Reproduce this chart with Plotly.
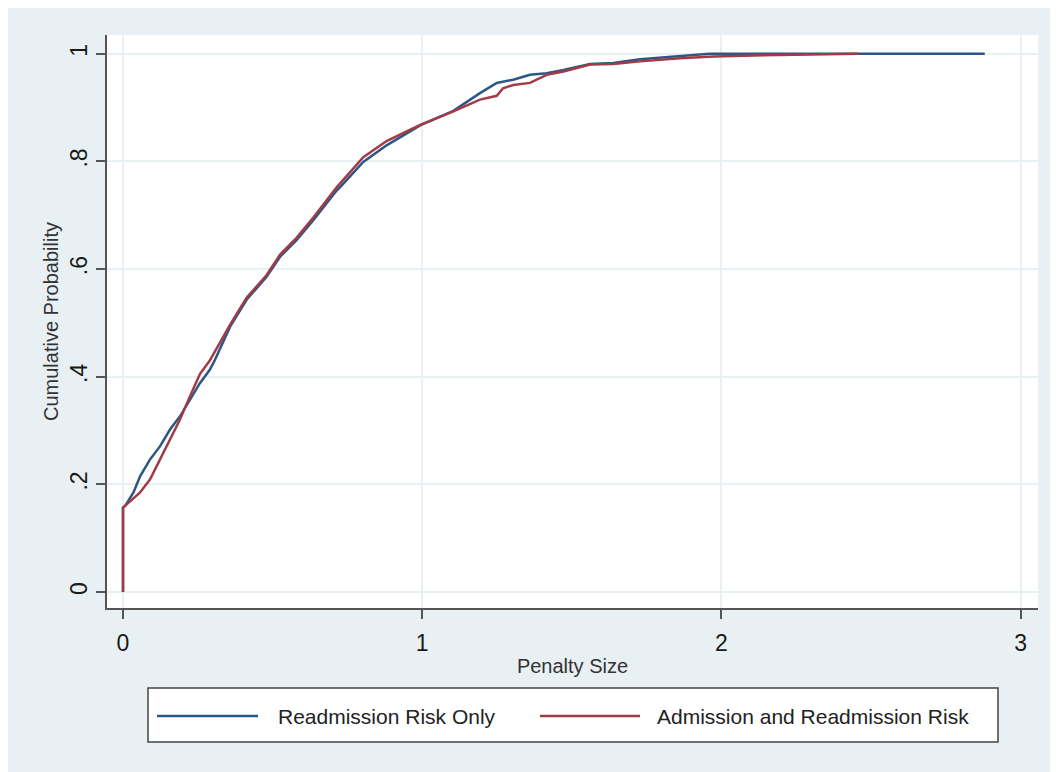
import plotly.graph_objects as go

# ---------------- data ----------------
blue_name = "Readmission Risk Only"
blue_x = [0, 0, 0.007, 0.035, 0.057, 0.09, 0.124, 0.157, 0.19, 0.224, 0.257, 0.29,
          0.307, 0.358, 0.413, 0.48, 0.525, 0.58, 0.636, 0.714, 0.725, 0.803, 0.881,
          0.993, 1.104, 1.193, 1.249, 1.304, 1.36, 1.416, 1.472, 1.561, 1.639, 1.728,
          1.862, 1.96, 2.196, 2.5, 2.88]
blue_y = [0, 0.157, 0.16, 0.185, 0.215, 0.246, 0.271, 0.302, 0.326, 0.357, 0.388, 0.413,
          0.431, 0.493, 0.543, 0.586, 0.623, 0.654, 0.691, 0.746, 0.752, 0.799, 0.83,
          0.867, 0.894, 0.927, 0.946, 0.952, 0.961, 0.964, 0.970, 0.981, 0.983, 0.990,
          0.996, 1.0, 1.0, 1.0, 1.0]

red_name = "Admission and Readmission Risk"
red_x = [0, 0, 0.007, 0.057, 0.09, 0.124, 0.157, 0.19, 0.224, 0.257, 0.29, 0.358, 0.413,
         0.48, 0.525, 0.58, 0.636, 0.714, 0.803, 0.881, 0.993, 1.104, 1.193, 1.249,
         1.27, 1.304, 1.36, 1.416, 1.472, 1.561, 1.639, 1.728, 1.862, 1.973, 2.196,
         2.457]
red_y = [0, 0.157, 0.16, 0.185, 0.209, 0.246, 0.283, 0.32, 0.364, 0.405, 0.43, 0.497,
         0.547, 0.589, 0.627, 0.658, 0.696, 0.752, 0.808, 0.838, 0.868, 0.893, 0.915,
         0.922, 0.936, 0.942, 0.946, 0.961, 0.967, 0.980, 0.981, 0.986, 0.992, 0.995,
         0.998, 1.0]

x_ticks = [0, 1, 2, 3]
x_ticktext = ["0", "1", "2", "3"]
y_ticks = [0, 0.2, 0.4, 0.6, 0.8, 1.0]
y_ticktext = ["0", ".2", ".4", ".6", ".8", "1"]

x_title = "Penalty Size"
y_title = "Cumulative Probability"

# ---------------- styles ----------------
BLUE = "#2c5784"
RED = "#a33b46"
BG = "#e8f0f3"
GRID = "#e8f0f3"
AXIS = "#555555"
FONT = "Liberation Sans, Arial, sans-serif"

fig = go.Figure()
fig.add_trace(go.Scatter(x=blue_x, y=blue_y, mode="lines", name=blue_name,
                         line=dict(color=BLUE, width=2.5), showlegend=False))
fig.add_trace(go.Scatter(x=red_x, y=red_y, mode="lines", name=red_name,
                         line=dict(color=RED, width=2.5), showlegend=False))

W, H = 1058, 772
L, R, T, B = 99, 28, 27, 172
pw, ph = W - L - R, H - T - B
OFF = 8  # page body margin in the screenshot


def px_x(px):
    return (px - OFF - L) / pw


def px_y(py):
    return (H - B - (py - OFF)) / ph


shapes = [
    # legend box
    dict(type="rect", xref="paper", yref="paper", layer="above",
         x0=px_x(148), x1=px_x(998), y0=px_y(742), y1=px_y(688),
         fillcolor="white", line=dict(color="#444444", width=1.5)),
    # legend line samples
    dict(type="line", xref="paper", yref="paper", layer="above",
         x0=px_x(157), x1=px_x(258), y0=px_y(716), y1=px_y(716),
         line=dict(color=BLUE, width=2.5)),
    dict(type="line", xref="paper", yref="paper", layer="above",
         x0=px_x(540), x1=px_x(640), y0=px_y(716), y1=px_y(716),
         line=dict(color=RED, width=2.5)),
]

annotations = [
    dict(xref="paper", yref="paper", x=px_x(276), y=px_y(716), xanchor="left",
         yanchor="middle", text=blue_name, showarrow=False,
         font=dict(family=FONT, size=21, color="#222222")),
    dict(xref="paper", yref="paper", x=px_x(655), y=px_y(716), xanchor="left",
         yanchor="middle", text=red_name, showarrow=False,
         font=dict(family=FONT, size=21, color="#222222")),
]

fig.update_layout(
    width=W, height=H, autosize=False,
    margin=dict(l=L, r=R, t=T, b=B, pad=0),
    paper_bgcolor=BG, plot_bgcolor="white",
    font=dict(family=FONT, color="#222222"),
    shapes=shapes, annotations=annotations, showlegend=False,
)

fig.update_xaxes(
    range=[-0.0535, 3.058], tickvals=x_ticks, ticktext=x_ticktext,
    showgrid=True, gridcolor=GRID, gridwidth=2, zeroline=False,
    showline=True, linecolor=AXIS, linewidth=2,
    ticks="outside", ticklen=9, tickwidth=2, tickcolor=AXIS,
    ticklabelstandoff=4,
    tickfont=dict(family=FONT, size=23, color="#1a1a1a"),
    title=dict(text=x_title, font=dict(family=FONT, size=20, color="#333333"), standoff=4),
)
fig.update_yaxes(
    range=[-0.0297, 1.035], tickvals=y_ticks, ticktext=y_ticktext, tickangle=-90,
    showgrid=True, gridcolor=GRID, gridwidth=2, zeroline=False,
    showline=True, linecolor=AXIS, linewidth=2,
    ticks="outside", ticklen=9, tickwidth=2, tickcolor=AXIS,
    tickfont=dict(family=FONT, size=23, color="#1a1a1a"),
    title=dict(text=y_title, font=dict(family=FONT, size=20, color="#333333"), standoff=2),
)

fig.write_html("out.html")
